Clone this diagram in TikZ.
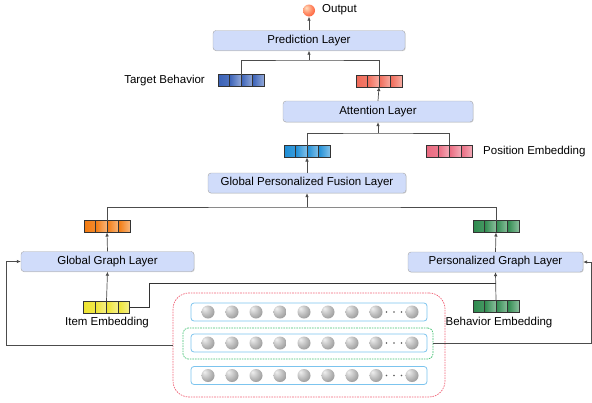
\documentclass[tikz,border=0pt]{standalone}
\usepackage{fontspec}
\setmainfont{Liberation Sans}
\usetikzlibrary{arrows.meta,shadows}
\definecolor{boxfill}{HTML}{D0DCFA}
\definecolor{cTB}{HTML}{3A62B8}
\definecolor{cSal}{HTML}{F06A58}
\definecolor{cCy}{HTML}{1E8ED6}
\definecolor{cPk}{HTML}{EA6A80}
\definecolor{cOr}{HTML}{F27A10}
\definecolor{cYe}{HTML}{EEE430}
\definecolor{cGr}{HTML}{2E8A4E}
\definecolor{cRow}{HTML}{7CC4EE}
\definecolor{cBig}{HTML}{F06478}
\definecolor{cGbox}{HTML}{40C070}
\pgfdeclareradialshading{grayball}{\pgfpoint{-14bp}{14bp}}{color(0bp)=(black!6); color(18bp)=(black!24); color(45bp)=(black!50); color(70bp)=(black!56)}
\pgfdeclareradialshading{outball}{\pgfpoint{-12bp}{12bp}}{color(0bp)=(orange!25!white); color(20bp)=(red!50!orange!60!white); color(45bp)=(red!70!orange!90!white); color(70bp)=(red!75!orange)}
\newcommand\lblfont{\fontsize{11.5}{13}\selectfont}
\tikzset{
  layer/.style={draw=black!35, fill=boxfill, rounded corners=3pt, minimum height=20pt, inner sep=0pt,
    drop shadow={opacity=0.3, shadow xshift=0.7pt, shadow yshift=-0.7pt}, font=\lblfont},
  vec/.style={minimum width=46pt, minimum height=12pt, inner sep=0pt, outer sep=0pt,
    draw=black!80, line width=0.6pt, path picture={
      \foreach \k in {0,1,2,3}{
        \shade[shading=axis, shading angle=45, left color=#1, right color=#1!55!white]
          ([xshift=\k*11.5pt]path picture bounding box.south west) rectangle
          ([xshift=\k*11.5pt+11.5pt]path picture bounding box.north west);
        \draw[black!80, line width=0.6pt]
          ([xshift=\k*11.5pt]path picture bounding box.south west) --
          ([xshift=\k*11.5pt]path picture bounding box.north west);
      }}},
  conn/.style={draw=black!70, line width=0.7pt},
  arr/.style={conn, -{Latex[length=4pt,width=3.6pt]}},
  lbl/.style={font=\lblfont, inner sep=0pt},
  rowbox/.style={draw=cRow, line width=0.8pt, rounded corners=3pt, fill=white, minimum width=236pt, minimum height=18pt, inner sep=0pt},
  ballnode/.style={circle, minimum size=13pt, inner sep=0pt, shading=grayball},
  dotnode/.style={circle, fill=black!65, minimum size=1.8pt, inner sep=0pt}
}
\begin{document}
\begin{tikzpicture}[x=1pt,y=-1pt]
\useasboundingbox (0,0) rectangle (592,402);

% output
\node[circle, minimum size=12pt, inner sep=0pt, shading=outball] (out) at (309,10.5) {};
\node[lbl, anchor=west] (outlbl) at (322,10) {Output};

% layers
\node[layer, minimum width=192pt] (pred) at (309,40.5) {Prediction Layer};
\node[layer, minimum width=190pt, minimum height=21pt] (att) at (378,111.5) {Attention Layer};
\node[layer, minimum width=198pt] (fus) at (307,183) {Global Personalized Fusion Layer};
\node[layer, minimum width=173pt] (ggl) at (107.5,261.5) {Global Graph Layer};
\node[layer, minimum width=175pt] (pgl) at (495.5,262) {Personalized Graph Layer};

% vectors
\node[vec=cTB] (vtb) at (241,80.5) {};
\node[lbl, anchor=east] (tblbl) at (205,80.5) {Target Behavior};
\node[vec=cSal] (vatt) at (379,81) {};
\node[vec=cCy] (vcy) at (307,151.5) {};
\node[vec=cPk] (vpos) at (449.5,151) {};
\node[lbl, anchor=west] (poslbl) at (483,151.5) {Position Embedding};
\node[vec=cOr] (vor) at (107,226.5) {};
\node[vec=cGr] (vgr) at (496,226.5) {};
\node[vec=cYe] (vitem) at (106.5,307) {};
\node[lbl] (itemlbl) at (107,322.5) {Item Embedding};
\node[vec=cGr] (vbeh) at (496,306.5) {};
\node[lbl] (behlbl) at (499,322.5) {Behavior Embedding};

% bottom sequence area
\node[draw=cBig, dash pattern=on 1.6pt off 1pt, line width=0.7pt, rounded corners=16pt,
      minimum width=272pt, minimum height=104pt, inner sep=0pt] (big) at (309,345) {};
\node[draw=cGbox, dash pattern=on 1.6pt off 1pt, line width=0.7pt, rounded corners=5pt,
      minimum width=250pt, minimum height=31pt, inner sep=0pt] (gbox) at (308,343.5) {};
\node[rowbox] (r1) at (309,312) {};
\node[rowbox] (r2) at (309,343) {};
\node[rowbox] (r3) at (309,375.5) {};
\foreach \r/\yy in {1/312,2/343,3/375.5}{
  \foreach \i in {0,...,7}{
    \node[ballnode] (b\r-\i) at (208+24*\i,\yy) {};
  }
  \node[ballnode] (b\r-last) at (412,\yy) {};
  \node[dotnode] (d\r-a) at (386.5,\yy) {};
  \node[dotnode] (d\r-b) at (394,\yy) {};
  \node[dotnode] (d\r-c) at (401.5,\yy) {};
}

% connectors
\coordinate (j1) at (309,60);
\coordinate (j2) at (378,133);
\coordinate (j3) at (307,207);
\coordinate (j4) at (496,283);

\draw[arr] (pred.north) -- (out.south);
\draw[conn] (vtb.north) |- (j1) -| (vatt.north);
\draw[arr] (j1) -- (pred.south);
\draw[arr] (att.north) -- (vatt.south);

\draw[conn] (vcy.north) |- (j2) -| (vpos.north);
\draw[arr] (j2) -- (att.south);
\draw[arr] (fus.north) -- (vcy.south);

\draw[conn] (vor.north) |- (j3) -| (vgr.north);
\draw[arr] (j3) -- (fus.south);
\draw[arr] (ggl.north) -- (vor.south);
\draw[arr] (pgl.north) -- (vgr.south);

\draw[arr] (vitem.north) -- (ggl.south);
\draw[arr] (vbeh.north) -- (pgl.south);
\draw[conn, draw=black!80, line width=0.9pt] (vitem.east) -- ++(20,0) |- (j4);

\draw[arr] (big.west) -| ([xshift=-14pt]ggl.west) -- (ggl.west);
\draw[arr] (gbox.east) -| ([xshift=8pt]pgl.east) -- (pgl.east);
\end{tikzpicture}
\end{document}
